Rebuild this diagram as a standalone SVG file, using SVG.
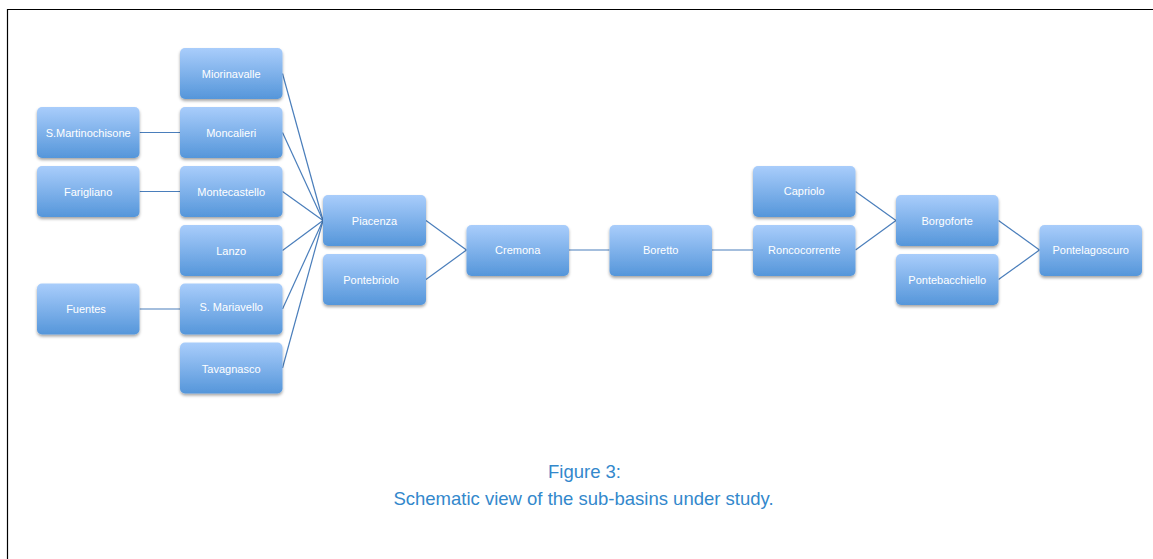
<svg xmlns="http://www.w3.org/2000/svg" width="1153" height="559" viewBox="0 0 1153 559">
<defs>
<linearGradient id="g" x1="0" y1="0" x2="0" y2="1">
<stop offset="0" stop-color="#a9cdfb"/>
<stop offset="1" stop-color="#5596da"/>
</linearGradient>
<filter id="sh" x="-10%" y="-10%" width="120%" height="135%">
<feDropShadow dx="0" dy="2" stdDeviation="1.6" flood-color="#000" flood-opacity="0.35"/>
</filter>
</defs>
<style>
.n rect{fill:url(#g);filter:url(#sh)}
.n text{fill:#fff;font-family:"Liberation Sans",Arial,sans-serif;font-size:11px;text-anchor:middle}
.c path{stroke:#4a7ebb;stroke-width:1.2;fill:none}
.cap{fill:#3388cc;font-family:"Liberation Sans",Arial,sans-serif;font-size:18.5px;text-anchor:middle}
</style>
<rect width="1153" height="559" fill="#fff"/>
<path d="M7.5,559 V9.5 H1153" fill="none" stroke="#000" stroke-width="1.2"/>
<g class="c">
<path d="M139.5,132.5 H180"/>
<path d="M139.5,191.5 H180"/>
<path d="M139.5,309 H180"/>
<path d="M282.5,73.5 L323,220.5"/>
<path d="M282.5,132.5 L323,220.5"/>
<path d="M282.5,191.5 L323,220.5"/>
<path d="M282.5,250.5 L323,220.5"/>
<path d="M282.5,309 L323,220.5"/>
<path d="M282.5,368 L323,220.5"/>
<path d="M426,220.5 L466.5,250"/>
<path d="M426,279.5 L466.5,250"/>
<path d="M569,250 H609.5"/>
<path d="M712,250 H753"/>
<path d="M855.5,191.5 L896,220.5"/>
<path d="M855.5,250 L896,220.5"/>
<path d="M998.5,220.5 L1039.5,250"/>
<path d="M998.5,279.5 L1039.5,250"/>
</g>
<g id="n-smartinochisone" class="n"><rect x="37" y="107" width="102.5" height="51" rx="5"/><text x="88.2" y="136.5">S.Martinochisone</text></g>
<g id="n-farigliano" class="n"><rect x="37" y="166" width="102.5" height="51" rx="5"/><text x="88.2" y="195.5">Farigliano</text></g>
<g id="n-fuentes" class="n"><rect x="37" y="283.5" width="102.5" height="51" rx="5"/><text x="86" y="313">Fuentes</text></g>
<g id="n-miorinavalle" class="n"><rect x="180" y="48" width="102.5" height="51" rx="5"/><text x="231.2" y="77.5">Miorinavalle</text></g>
<g id="n-moncalieri" class="n"><rect x="180" y="107" width="102.5" height="51" rx="5"/><text x="231.2" y="136.5">Moncalieri</text></g>
<g id="n-montecastello" class="n"><rect x="180" y="166" width="102.5" height="51" rx="5"/><text x="231.2" y="195.5">Montecastello</text></g>
<g id="n-lanzo" class="n"><rect x="180" y="225" width="102.5" height="51" rx="5"/><text x="231.2" y="254.5">Lanzo</text></g>
<g id="n-smariavello" class="n"><rect x="180" y="283.5" width="102.5" height="51" rx="5"/><text x="231.2" y="311">S. Mariavello</text></g>
<g id="n-tavagnasco" class="n"><rect x="180" y="342.5" width="102.5" height="51" rx="5"/><text x="231.2" y="373">Tavagnasco</text></g>
<g id="n-piacenza" class="n"><rect x="323" y="195" width="103" height="51" rx="5"/><text x="374.5" y="224.5">Piacenza</text></g>
<g id="n-pontebriolo" class="n"><rect x="323" y="254" width="103" height="51" rx="5"/><text x="371" y="283.5">Pontebriolo</text></g>
<g id="n-cremona" class="n"><rect x="466.5" y="225" width="102.5" height="51" rx="5"/><text x="517.7" y="254">Cremona</text></g>
<g id="n-boretto" class="n"><rect x="609.5" y="225" width="102.5" height="51" rx="5"/><text x="660.7" y="254">Boretto</text></g>
<g id="n-capriolo" class="n"><rect x="753" y="166" width="102.5" height="51" rx="5"/><text x="804.2" y="195">Capriolo</text></g>
<g id="n-roncocorrente" class="n"><rect x="753" y="225" width="102.5" height="51" rx="5"/><text x="804.2" y="254">Roncocorrente</text></g>
<g id="n-borgoforte" class="n"><rect x="896" y="195" width="102.5" height="51" rx="5"/><text x="947.2" y="225">Borgoforte</text></g>
<g id="n-pontebacchiello" class="n"><rect x="896" y="254" width="102.5" height="51" rx="5"/><text x="947.2" y="283.5">Pontebacchiello</text></g>
<g id="n-pontelagoscuro" class="n"><rect x="1039.5" y="225" width="102.5" height="51" rx="5"/><text x="1090.7" y="254">Pontelagoscuro</text></g>
<text class="cap" x="584.5" y="478">Figure 3:</text>
<text class="cap" x="583.5" y="504.5">Schematic view of the sub-basins under study.</text>
</svg>
